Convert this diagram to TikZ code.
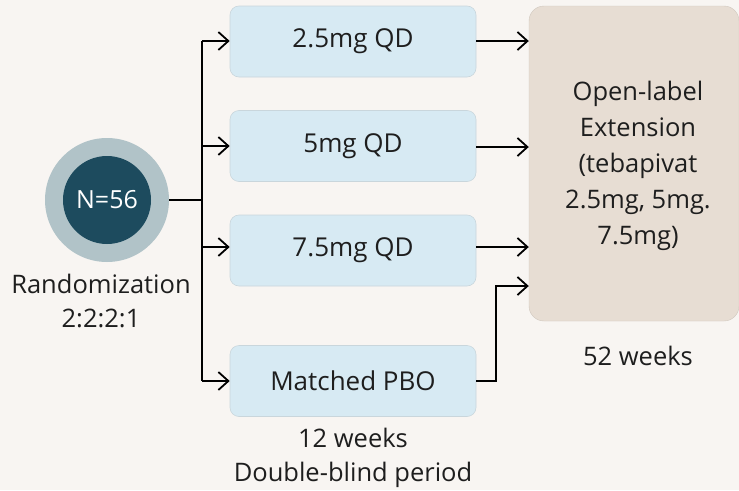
\documentclass[tikz,border=0pt]{standalone}
\usepackage{fontspec}
\setmainfont{Open Sans}
\usetikzlibrary{arrows.meta}
\definecolor{bgc}{HTML}{F8F5F2}
\definecolor{boxc}{HTML}{D7EAF3}
\definecolor{boxb}{HTML}{C9D6DC}
\definecolor{extc}{HTML}{E7DDD3}
\definecolor{outerc}{HTML}{B1C3C8}
\definecolor{innerc}{HTML}{1D4B5E}
\definecolor{txt}{HTML}{1E1E1E}
\tikzset{
  x=1pt, y=-1pt,
  armbox/.style={draw=boxb, line width=0.6pt, fill=boxc, rounded corners=9pt, minimum width=246pt, minimum height=71pt, inner sep=0pt, text=txt, font=\fontsize{26}{30}\selectfont},
  lbl/.style={text=txt, font=\fontsize{25.5}{34}\selectfont, align=center, inner sep=0pt},
  conn/.style={line width=1.8pt, -{Straight Barb[length=10pt, width=18pt, line width=1.8pt]}},
  plain/.style={line width=1.8pt},
}
\begin{document}
\begin{tikzpicture}
\fill[bgc] (0,0) rectangle (739,490);
\useasboundingbox (0,0) rectangle (739,490);
% circle
\node[circle, fill=outerc, minimum size=124pt, inner sep=0pt] (outer) at (107,200) {};
\node[circle, fill=innerc, minimum size=88pt, inner sep=0pt, text=white, font=\fontsize{25}{30}\selectfont] (inner) at (107,200) {N=56};
\node[lbl] (rand) at (101,301) {Randomization\\2:2:2:1};
% arms
\node[armbox] (a1) at (353,41.5) {2.5mg QD};
\node[armbox] (a2) at (353,146) {5mg QD};
\node[armbox] (a3) at (353,250.5) {7.5mg QD};
\node[armbox] (a4) at (353,381) {Matched PBO};
\node[lbl] (dbl) at (353,458) {12 weeks\\Double-blind period};
% extension
\node[fill=extc, draw=extc!90!black, line width=0.4pt, rounded corners=15pt, minimum width=210pt, minimum height=315pt, inner sep=0pt] (ext) at (634,163.5) {};
\node[lbl, font=\fontsize{25.5}{36}\selectfont] (extt) at (638,166) {Open-label\\Extension\\(tebapivat\\2.5mg, 5mg.\\7.5mg)};
\node[lbl] (w52) at (638,356) {52 weeks};
% connectors
\coordinate (split) at (202,200);
\coordinate (top) at (202,41);
\coordinate (bot) at (202,381);
\draw[plain] (outer.east) -- (split);
\draw[plain] (top) -- (bot);
\draw[conn] (top) -- (a1.west |- top);
\draw[conn] (202,146) coordinate (s2) -- (a2.west |- s2);
\draw[conn] (202,247) coordinate (s3) -- (a3.west |- s3);
\draw[conn] (bot) -- (a4.west |- bot);
\draw[conn] (a1.east |- 0,41) -- (ext.west |- 0,41);
\draw[conn] (a2.east |- 0,147) -- (ext.west |- 0,147);
\draw[conn] (a3.east |- 0,247) -- (ext.west |- 0,247);
\draw[conn] (a4.east) -- (496,381) -- (496,286) -- (ext.west |- 0,286);
\end{tikzpicture}
\end{document}
